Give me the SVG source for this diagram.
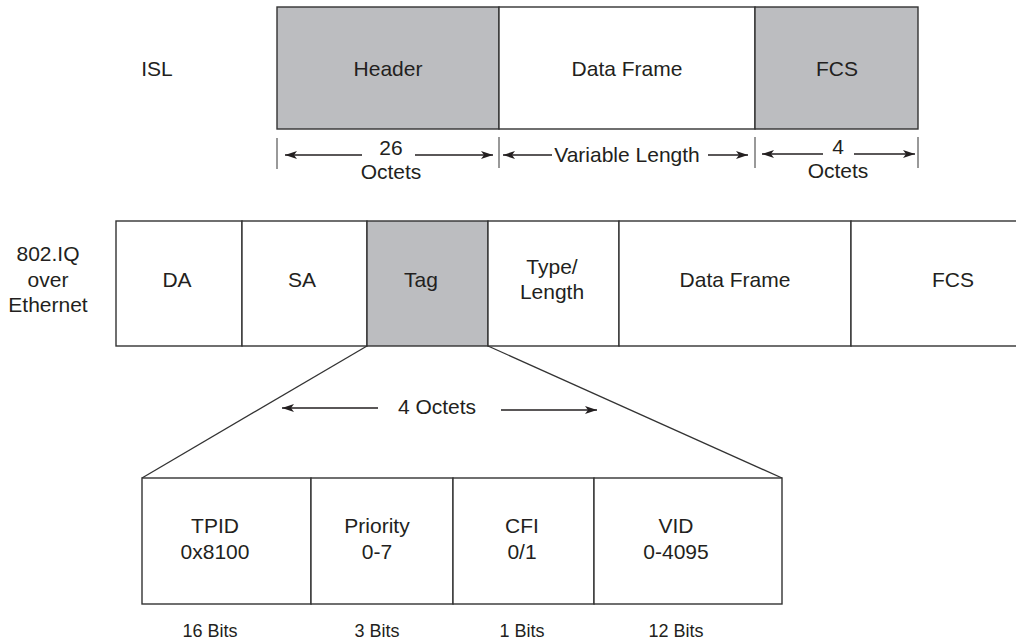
<svg xmlns="http://www.w3.org/2000/svg" width="1016" height="639" viewBox="0 0 1016 639">
<defs>
<style>
text{font-family:"Liberation Sans",Arial,sans-serif;font-size:21px;fill:#231f20;text-anchor:middle}
.sm{font-size:18px}
.box{stroke:#333;stroke-width:1.4;fill:#fff}
.sh{fill:#bcbdc0}
.ln{stroke:#333;stroke-width:1.3;fill:none}
.tk{stroke:#555;stroke-width:1.2}
.ar{stroke:#231f20;stroke-width:1.4;fill:none;marker-end:url(#ah)}
</style>
<marker id="ah" viewBox="0 0 12 8" refX="12" refY="4" markerWidth="12" markerHeight="8" markerUnits="userSpaceOnUse" orient="auto">
<path d="M0,0 L12,4 L0,8 L3,4 Z" fill="#231f20"/>
</marker>
</defs>
<rect width="1016" height="639" fill="#fff"/>

<text x="157" y="76">ISL</text>
<g id="isl-header"><rect class="box sh" x="277" y="7" width="222" height="122"/><text x="388" y="76">Header</text></g>
<g id="isl-data"><rect class="box" x="499" y="7" width="256" height="122"/><text x="627" y="76">Data Frame</text></g>
<g id="isl-fcs"><rect class="box sh" x="755" y="7" width="163" height="122"/><text x="837" y="76">FCS</text></g>

<g id="dimensions">
<line class="tk" x1="277" y1="138" x2="277" y2="169"/>
<line class="tk" x1="499" y1="137" x2="499" y2="168"/>
<line class="tk" x1="755" y1="137" x2="755" y2="168"/>
<line class="tk" x1="918" y1="137" x2="918" y2="168"/>
<line class="ar" x1="362" y1="155" x2="285" y2="155"/>
<line class="ar" x1="415" y1="155" x2="493" y2="155"/>
<line class="ar" x1="552" y1="155" x2="503" y2="155"/>
<line class="ar" x1="708" y1="155" x2="748" y2="155"/>
<line class="ar" x1="823" y1="154" x2="762" y2="154"/>
<line class="ar" x1="854" y1="154" x2="915" y2="154"/>
<line class="ar" x1="378" y1="408" x2="282" y2="408"/>
<line class="ar" x1="501" y1="410" x2="597" y2="410"/>
</g>
<text x="391" y="155">26</text>
<text x="391" y="179">Octets</text>
<text x="627" y="162">Variable Length</text>
<text x="838" y="154">4</text>
<text x="838" y="178">Octets</text>

<text x="48" y="261">802.IQ</text>
<text x="48" y="287">over</text>
<text x="48" y="312">Ethernet</text>
<g id="eth-da"><rect class="box" x="116" y="221" width="126" height="125"/><text x="177" y="287">DA</text></g>
<g id="eth-sa"><rect class="box" x="242" y="221" width="125" height="125"/><text x="302" y="287">SA</text></g>
<g id="eth-tag"><rect class="box sh" x="367" y="221" width="121" height="125"/><text x="421" y="287">Tag</text></g>
<g id="eth-type"><rect class="box" x="488" y="221" width="131" height="125"/><text x="552" y="274">Type/</text><text x="552" y="299">Length</text></g>
<g id="eth-data"><rect class="box" x="619" y="221" width="232" height="125"/><text x="735" y="287">Data Frame</text></g>
<g id="eth-fcs"><rect class="box" x="851" y="221" width="175" height="125"/><text x="953" y="287">FCS</text></g>

<g id="expand">
<line class="ln" x1="367" y1="346" x2="142" y2="478"/>
<line class="ln" x1="488" y1="346" x2="782" y2="478"/>
</g>
<text x="437" y="414">4 Octets</text>

<g id="tpid"><rect class="box" x="142" y="478" width="169" height="126"/><text x="215" y="533">TPID</text><text x="215" y="559">0x8100</text></g>
<g id="priority"><rect class="box" x="311" y="478" width="142" height="126"/><text x="377" y="533">Priority</text><text x="377" y="559">0-7</text></g>
<g id="cfi"><rect class="box" x="453" y="478" width="141" height="126"/><text x="522" y="533">CFI</text><text x="522" y="559">0/1</text></g>
<g id="vid"><rect class="box" x="594" y="478" width="188" height="126"/><text x="676" y="533">VID</text><text x="676" y="559">0-4095</text></g>

<text class="sm" x="210" y="637">16 Bits</text>
<text class="sm" x="377" y="637">3 Bits</text>
<text class="sm" x="522" y="637">1 Bits</text>
<text class="sm" x="676" y="637">12 Bits</text>
</svg>
